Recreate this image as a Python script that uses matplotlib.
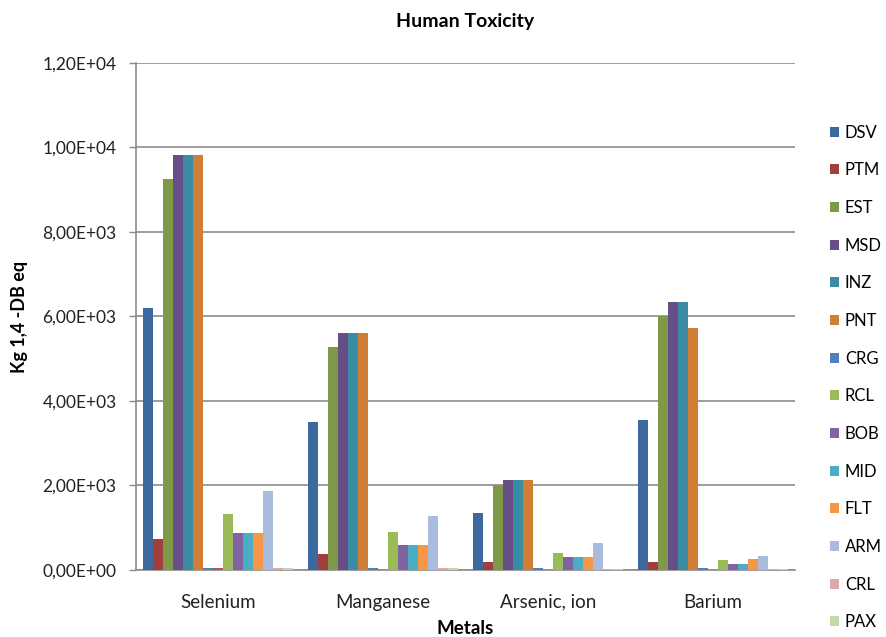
import matplotlib
matplotlib.use("Agg")
import matplotlib.pyplot as plt
from matplotlib.ticker import FuncFormatter, MultipleLocator
from matplotlib.patches import Patch
import numpy as np

plt.rcParams['font.family'] = ['Lato', 'DejaVu Sans']

metals = ["Selenium", "Manganese", "Arsenic, ion", "Barium"]

# impact values per process (Kg 1,4-DB eq)
DSV = [6200, 3500, 1360, 3550]
PTM = [740, 370, 200, 200]
EST = [9250, 5280, 2000, 6010]
MSD = [9820, 5610, 2130, 6350]
INZ = [9820, 5610, 2130, 6350]
PNT = [9820, 5610, 2130, 5730]
CRG = [40, 40, 40, 40]
UNNAMED = [40, 0, 0, 0]
RCL = [1320, 910, 410, 230]
BOB = [870, 600, 300, 150]
MID = [870, 600, 300, 150]
FLT = [870, 600, 300, 270]
ARM = [1880, 1280, 650, 340]
CRL = [40, 40, 30, 30]
PAX = [40, 40, 30, 30]

series_names = ["DSV", "PTM", "EST", "MSD", "INZ", "PNT", "CRG", "",
                "RCL", "BOB", "MID", "FLT", "ARM", "CRL", "PAX"]
series_values = [DSV, PTM, EST, MSD, INZ, PNT, CRG, UNNAMED,
                 RCL, BOB, MID, FLT, ARM, CRL, PAX]
series_colors = ["#3C6A9F", "#A23E3B", "#7E9A48", "#664F86", "#3A8CA2",
                 "#D07E36", "#4F81BD", "#C0504D", "#9BBB59", "#8064A2",
                 "#4BACC6", "#F79646", "#A9BCDD", "#DDA9A8", "#C5D8A8"]

fig = plt.figure(figsize=(8.86, 6.37), dpi=100)
ax = fig.add_axes([0.1535, 0.1052, 0.7438, 0.796])

x = np.arange(len(metals))
n = len(series_values)
w = 0.0607
offsets = (np.arange(n) - (n - 1) / 2) * w

for off, vals, col in zip(offsets, series_values, series_colors):
    ax.bar(x + off, vals, width=w, color=col, linewidth=0, zorder=3)

ax.set_xlim(-0.5, len(metals) - 0.5)
ax.set_ylim(0, 12000)
ax.yaxis.set_major_locator(MultipleLocator(2000))
ax.yaxis.set_major_formatter(FuncFormatter(lambda v, p: f"{v:.2E}".replace('.', ',')))
ax.grid(axis='y', color='#8C8C8C', linewidth=1.2, zorder=0)
ax.set_axisbelow(True)

for s in ['top', 'right']:
    ax.spines[s].set_visible(False)
for s in ['left', 'bottom']:
    ax.spines[s].set_color('#8C8C8C')
    ax.spines[s].set_linewidth(1.2)

ax.tick_params(axis='y', length=5, width=1, color='#8C8C8C', pad=9,
               labelsize=12.5, labelcolor='#222222')
ax.tick_params(axis='x', length=0, pad=17, labelsize=13.5, labelcolor='#222222')
ax.set_xticks(x)
ax.set_xticklabels(metals)

ax.set_title("Human Toxicity", fontsize=14, fontweight='bold', pad=26)
ax.set_xlabel("Metals", fontsize=13.5, fontweight='bold', labelpad=7)
ax.set_ylabel("Kg 1,4 -DB eq", fontsize=13, fontweight='bold', labelpad=10)

handles = [Patch(facecolor=c, edgecolor='none', label=nm)
           for nm, c in zip(series_names, series_colors) if nm]
fig.legend(handles=handles, loc='upper left', bbox_to_anchor=(0.929, 0.815),
           frameon=False, fontsize=12, handlelength=0.55, handleheight=0.55,
           handletextpad=0.36, labelspacing=1.3, borderaxespad=0)

fig.savefig("out.png", dpi=100)
